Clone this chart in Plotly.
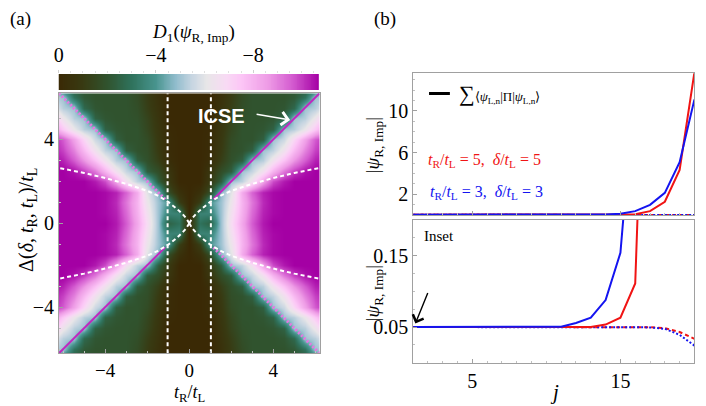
import numpy as np
import plotly.graph_objects as go

W, H = 706, 406
OFF = 8  # page body margin shifts the figure on screen

# ---- panel (a): D1(psi_R,Imp) (t_R/t_L >= 0, Delta >= 0)
grid_pts = [0.0, 0.5, 1.0, 1.5, 2.0, 2.5, 3.0, 3.5, 4.0, 4.5, 5.0, 5.5, 6.0, 6.5]
d1_quadrant = [
    [-0.5, -3.0, -2.5, -5.0, -6.8, -8.3, -9.6, -10.4, -10.7, -10.7, -10.7, -10.7, -10.7, -10.7],
    [0.0, -3.5, -3.5, -5.0, -6.6, -8.1, -9.4, -10.3, -10.6, -10.7, -10.7, -10.7, -10.7, -10.7],
    [0.0, -1.2, -4.0, -5.0, -6.3, -8.0, -9.2, -10.2, -10.6, -10.7, -10.7, -10.7, -10.7, -10.7],
    [0.0, -0.5, -1.8, -4.8, -6.0, -8.2, -9.5, -10.3, -10.6, -10.7, -10.7, -10.7, -10.7, -10.7],
    [0.0, 0.0, -1.0, -2.4, -5.0, -5.4, -6.6, -8.4, -9.8, -10.4, -10.7, -10.7, -10.7, -10.7],
    [0.0, 0.0, -0.8, -1.8, -2.4, -5.0, -5.5, -6.6, -8.0, -9.2, -10.0, -10.5, -10.7, -10.7],
    [0.0, 0.0, -0.3, -1.2, -1.9, -2.4, -5.0, -5.3, -6.5, -7.6, -8.7, -9.6, -10.3, -10.6],
    [0.0, 0.0, -0.2, -1.0, -1.8, -2.0, -2.4, -5.0, -5.4, -6.5, -7.8, -9.0, -9.9, -10.4],
    [0.0, 0.0, -0.2, -0.9, -1.7, -2.0, -2.0, -2.4, -5.0, -5.6, -7.0, -8.4, -9.6, -10.3],
    [0.0, 0.0, -0.1, -0.8, -1.5, -2.0, -2.0, -2.1, -2.5, -5.0, -5.3, -6.2, -7.4, -8.7],
    [0.0, 0.0, 0.0, -0.7, -1.4, -1.9, -2.0, -2.0, -2.1, -2.5, -5.0, -5.3, -6.3, -7.6],
    [0.0, 0.0, 0.0, -0.6, -1.2, -1.8, -2.0, -2.0, -2.0, -2.1, -2.7, -5.0, -5.3, -6.2],
    [0.0, 0.0, 0.0, -0.5, -1.1, -1.7, -2.0, -2.0, -2.0, -2.0, -2.2, -3.0, -5.0, -5.3],
    [0.0, 0.0, 0.0, -0.4, -1.0, -1.6, -1.9, -2.0, -2.0, -2.0, -2.1, -2.3, -3.0, -5.0],
]
plot_extent = 6.2
gap_edges = [-1.03, 1.03]
bound_t = [0.0, 0.15, 0.33, 0.6, 1.0, 1.5, 2.0, 3.0, 4.0, 5.0, 6.2]
bound_d = [0.0, 0.25, 0.45, 0.7, 1.02, 1.32, 1.55, 1.88, 2.16, 2.4, 2.64]
icse_t = [1.15, 6.2]
cbar_ticks = [0, -4, -8]
D1_MIN = -10.7

# value -> colour, taken from the colour bar
D1_COLORS = [
    (-10.7, "#a400a4"), (-9.6, "#d45cd0"), (-8.6, "#ee9ce6"), (-7.5, "#fcc6f6"),
    (-6.9, "#f8daf4"), (-6.1, "#e8e6e8"), (-5.5, "#c8d6e2"), (-4.8, "#90bccc"),
    (-4.0, "#48948e"), (-3.0, "#2f725c"), (-2.0, "#30532e"), (-1.0, "#383a12"),
    (0.0, "#3a2905"),
]

# ---- panel (b): |psi_R,Imp| along the chain
sites = list(range(1, 21))
red_amp = [0.05, 0.05, 0.05, 0.05, 0.05, 0.05, 0.05, 0.05, 0.05, 0.05,
           0.05, 0.05, 0.0502, 0.0534, 0.063, 0.111, 0.40, 1.30, 4.35, 13.7]
blue_amp = [0.05, 0.05, 0.05, 0.05, 0.05, 0.05, 0.05, 0.05, 0.05, 0.05,
            0.0505, 0.0557, 0.063, 0.0878, 0.154, 0.40, 1.0, 2.15, 5.08, 11.1]
red_proj = [0.05, 0.05, 0.05, 0.05, 0.05, 0.05, 0.05, 0.05, 0.05, 0.05,
            0.05, 0.05, 0.05, 0.05, 0.05, 0.05, 0.0498, 0.0485, 0.043, 0.0335]
blue_proj = [0.05, 0.05, 0.05, 0.05, 0.05, 0.05, 0.05, 0.05, 0.05, 0.05,
             0.05, 0.05, 0.05, 0.05, 0.05, 0.05, 0.0495, 0.0475, 0.039, 0.024]

RED = "#f01414"
BLUE = "#1414f0"
FONT = "Liberation Serif"


def px_x(x):
    return (x - OFF) / W


def px_y(y):
    return 1 - (y - OFF) / H


q = np.array(d1_quadrant)
half = np.hstack([q[:, :0:-1], q])
d1_full = np.vstack([half[:0:-1], half])
axis_pts = [-p for p in grid_pts[:0:-1]] + grid_pts
colorscale = [[(v - D1_MIN) / -D1_MIN, c] for v, c in D1_COLORS]

fig = go.Figure()

fig.add_trace(go.Heatmap(
    x=axis_pts, y=axis_pts, z=d1_full, colorscale=colorscale,
    zmin=D1_MIN, zmax=0, zsmooth="best", showscale=False, hoverinfo="skip",
))

# diagonals: hatched pink Delta=-t, solid magenta Delta=t (ICSE)
diag_x = [-icse_t[1], -icse_t[0], None, icse_t[0], icse_t[1]]
fig.add_trace(go.Scatter(
    x=diag_x, y=[None if v is None else -v for v in diag_x], mode="lines",
    line=dict(color="#e478e2", width=3, dash="2px,2px"), hoverinfo="skip",
))
fig.add_trace(go.Scatter(
    x=diag_x, y=diag_x, mode="lines",
    line=dict(color="#c028c0", width=2), hoverinfo="skip",
))

# white dashed guides
vx, vy = [], []
for g in gap_edges:
    vx += [g, g, None]
    vy += [-plot_extent, plot_extent, None]
bx, by = [], []
for sx in (1, -1):
    for sy in (1, -1):
        bx += [sx * t for t in bound_t] + [None]
        by += [sy * d for d in bound_d] + [None]
for xs, ys in ((vx, vy), (bx, by)):
    fig.add_trace(go.Scatter(
        x=xs, y=ys, mode="lines",
        line=dict(color="white", width=2, dash="4px,3px"), hoverinfo="skip",
    ))

# colour bar drawn as a strip so that 0 sits on the left
cb_levels = np.linspace(0, D1_MIN, 300)
fig.add_trace(go.Heatmap(
    x=cb_levels, y=[0, 1], z=[cb_levels, cb_levels], colorscale=colorscale,
    zmin=D1_MIN, zmax=0, showscale=False, xaxis="x2", yaxis="y2", hoverinfo="skip",
))

# panel (b) curves
for ax in ("3", "4"):
    fig.add_trace(go.Scatter(x=sites, y=red_proj, mode="lines", xaxis="x" + ax, yaxis="y" + ax,
                             line=dict(color=RED, width=2, dash="4px,3px")))
    fig.add_trace(go.Scatter(x=sites, y=blue_proj, mode="lines", xaxis="x" + ax, yaxis="y" + ax,
                             line=dict(color=BLUE, width=2, dash="2px,2px")))
    fig.add_trace(go.Scatter(x=sites, y=red_amp, mode="lines", xaxis="x" + ax, yaxis="y" + ax,
                             line=dict(color=RED, width=2)))
    fig.add_trace(go.Scatter(x=sites, y=blue_amp, mode="lines", xaxis="x" + ax, yaxis="y" + ax,
                             line=dict(color=BLUE, width=2)))

frame = dict(showline=True, linecolor="#a0a0a0", linewidth=1, mirror=True,
             showgrid=False, zeroline=False, ticks="inside", ticklen=4,
             tickcolor="#a0a0a0", tickfont=dict(size=20, color="black"))
minor = dict(ticks="inside", ticklen=2, tickcolor="#c0c0c0")
a_x = [px_x(54.3), px_x(316.7)]
b_x = [px_x(411), px_x(694.3)]

fig.update_layout(
    width=W, height=H, margin=dict(l=0, r=0, t=0, b=0),
    paper_bgcolor="white", plot_bgcolor="white", showlegend=False,
    font=dict(family=FONT, color="black"),
    xaxis=dict(frame, domain=a_x, range=[-plot_extent, plot_extent], anchor="y",
               tickvals=[-4, 0, 4], tickfont=dict(size=19, color="black"),
               minor=dict(minor, dtick=1)),
    yaxis=dict(frame, domain=[px_y(353.3), px_y(93.3)], range=[-plot_extent, plot_extent],
               anchor="x", tickvals=[-4, 0, 4], minor=dict(minor, dtick=1)),
    xaxis2=dict(domain=[px_x(54), px_x(316)], range=[0, D1_MIN], anchor="y2", side="top",
                tickvals=cbar_ticks, ticks="outside", ticklen=3, tickcolor="#d0d0d0",
                showgrid=False, zeroline=False, showline=False,
                tickfont=dict(size=20, color="black"),
                minor=dict(ticks="outside", ticklen=2, dtick=0.5, tickcolor="#e0e0e0")),
    yaxis2=dict(domain=[px_y(90), px_y(74)], range=[-0.5, 1.5], anchor="x2", visible=False),
    xaxis3=dict(frame, domain=b_x, range=[1, 20], anchor="y3", showticklabels=False,
                tickvals=[5, 15], minor=dict(minor, dtick=1)),
    yaxis3=dict(frame, domain=[px_y(215.3), px_y(73.3)], range=[0, 13.6], anchor="x3",
                tickvals=[2, 6, 10], minor=dict(minor, dtick=1)),
    xaxis4=dict(frame, domain=b_x, range=[1, 20], anchor="y4", tickvals=[5, 15],
                minor=dict(minor, dtick=1)),
    yaxis4=dict(frame, domain=[px_y(362.7), px_y(220)], range=[0, 0.2], anchor="x4",
                tickvals=[0.05, 0.15], minor=dict(minor, dtick=0.025)),
)


def note(text, x, y, size=18, color="black", family=FONT, xanchor="center", **kw):
    fig.add_annotation(text=text, x=px_x(x), y=px_y(y), xref="paper", yref="paper",
                       xanchor=xanchor, yanchor="middle", showarrow=False,
                       font=dict(size=size, color=color, family=family), **kw)


psi = "|<i>ψ</i><sub>R, Imp</sub>|"
note("(a)", 16, 19, size=19)
note("(b)", 383, 19, size=19)
note("<i>D</i><sub>1</sub>(<i>ψ</i><sub>R, Imp</sub>)", 190, 33, size=19)
note("Δ(<i>δ</i>, <i>t</i><sub>R</sub>, <i>t</i><sub>L</sub>)/<i>t</i><sub>L</sub>", 22, 220, size=20, textangle=-90)
note("<i>t</i><sub>R</sub>/<i>t</i><sub>L</sub>", 186, 393, size=18)
note("<b>ICSE</b>", 218, 116, size=20, color="white", family="Liberation Sans")
note(psi, 372, 145, size=19, textangle=-90)
note(psi, 372, 293, size=19, textangle=-90)
note("<i>j</i>", 553, 392, size=21)
note("Inset", 420, 236, size=15, xanchor="left")
note("<i>t</i><sub>R</sub>/<i>t</i><sub>L</sub> = 5,  <i>δ</i>/<i>t</i><sub>L</sub> = 5",
     424, 160, size=16, color=RED, xanchor="left")
note("<i>t</i><sub>R</sub>/<i>t</i><sub>L</sub> = 3,  <i>δ</i>/<i>t</i><sub>L</sub> = 3",
     426, 192, size=16, color=BLUE, xanchor="left")
note('<span style="font-size:22px">∑</span>⟨<i>ψ</i><sub>L,n</sub>|Π|<i>ψ</i><sub>L,n</sub>⟩',
     455, 94, size=13, xanchor="left")

fig.add_shape(type="line", xref="paper", yref="paper", x0=px_x(427), x1=px_x(448),
              y0=px_y(93.5), y1=px_y(93.5), line=dict(color="black", width=3))

# arrows
fig.add_annotation(x=4.8, y=4.93, xref="x", yref="y", ax=-35, ay=-6, text="",
                   showarrow=True, arrowhead=4, arrowsize=1.6, arrowwidth=1.6, arrowcolor="white")
fig.add_annotation(x=1.15, y=0.055, xref="x4", yref="y4", ax=13, ay=-32, text="",
                   showarrow=True, arrowhead=4, arrowsize=1.6, arrowwidth=1.4, arrowcolor="black")

fig.write_html("out.html")
